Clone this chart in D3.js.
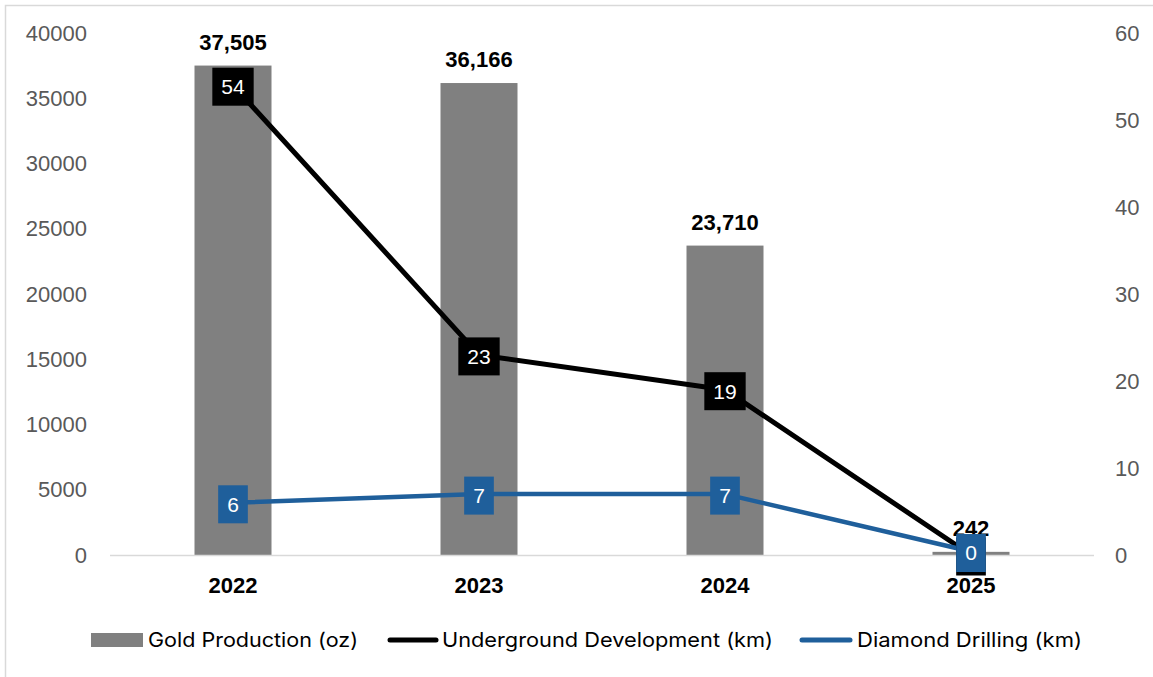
<!DOCTYPE html>
<html><head><meta charset="utf-8">
<script src="https://cdn.jsdelivr.net/npm/d3@7"></script>
<style>
html,body{margin:0;padding:0;background:#fff;}
svg{display:block;}
</style></head>
<body>
<svg id="chart" width="1153" height="677"></svg>
<script>
const categories = ["2022", "2023", "2024", "2025"];
const goldProduction = [37505, 36166, 23710, 242];
const undergroundDev = [54, 23, 19, 0];
const diamondDrilling = [6, 7, 7, 0.4];
const leftTicks = [0, 5000, 10000, 15000, 20000, 25000, 30000, 35000, 40000];
const rightTicks = [0, 10, 20, 30, 40, 50, 60];
const seriesNames = ["Gold Production (oz)", "Underground Development (km)", "Diamond Drilling (km)"];

const svg = d3.select("#chart");
const W = 1153, H = 677;
const plot = {left: 110, right: 1094, top: 33, bottom: 555};
const axisFont = "'Liberation Sans', Arial, sans-serif";
const legendFont = "Inter, 'Open Sans', sans-serif";
const grayBar = "#808080", black = "#000000", blue = "#1f5f9b";

// outer frame
svg.append("rect").attr("x", 5.5).attr("y", 5.5).attr("width", W + 10).attr("height", H + 10)
  .attr("fill", "none").attr("stroke", "#d9d9d9").attr("stroke-width", 1.5);

const x = d3.scaleBand().domain(categories).range([plot.left, plot.right])
  .paddingInner(0.687).paddingOuter(0.3435);
const yL = d3.scaleLinear().domain([0, 40000]).range([plot.bottom, plot.top]);
const yR = d3.scaleLinear().domain([0, 60]).range([plot.bottom, plot.top]);
const cx = c => x(c) + x.bandwidth() / 2;

// left axis
const axL = svg.append("g").attr("transform", `translate(${plot.left},0)`)
  .call(d3.axisLeft(yL).tickValues(leftTicks).tickSize(0).tickPadding(23).tickFormat(d3.format("d")));
axL.select(".domain").remove();
axL.selectAll("text").attr("font-family", axisFont).attr("font-size", 22).attr("fill", "#595959");

// right axis
const axR = svg.append("g").attr("transform", `translate(${plot.right},0)`)
  .call(d3.axisRight(yR).tickValues(rightTicks).tickSize(0).tickPadding(21).tickFormat(d3.format("d")));
axR.select(".domain").remove();
axR.selectAll("text").attr("font-family", axisFont).attr("font-size", 22).attr("fill", "#595959");

// bars
svg.append("g").selectAll("rect").data(categories).join("rect")
  .attr("x", c => x(c)).attr("width", x.bandwidth())
  .attr("y", (c, i) => yL(goldProduction[i]))
  .attr("height", (c, i) => yL(0) - yL(goldProduction[i]))
  .attr("fill", grayBar);

// baseline
svg.append("line").attr("x1", plot.left).attr("x2", plot.right)
  .attr("y1", yL(0) + 0.5).attr("y2", yL(0) + 0.5)
  .attr("stroke", "#d9d9d9").attr("stroke-width", 1.5);

// bottom axis labels
const axB = svg.append("g").attr("transform", `translate(0,${plot.bottom})`)
  .call(d3.axisBottom(x).tickSize(0).tickPadding(22));
axB.select(".domain").remove();
axB.selectAll("text").attr("font-family", axisFont).attr("font-size", 22)
  .attr("font-weight", "bold").attr("fill", "#000");

// bar labels
svg.append("g").selectAll("text").data(categories).join("text")
  .attr("x", c => cx(c)).attr("y", (c, i) => yL(goldProduction[i]) - 16)
  .attr("text-anchor", "middle").attr("font-family", axisFont).attr("font-size", 22)
  .attr("font-weight", "bold").attr("fill", "#000")
  .text((c, i) => d3.format(",")(goldProduction[i]));

// lines
const lineGen = vals => d3.line().x((d, i) => cx(categories[i])).y(d => yR(d))(vals);
svg.append("path").attr("d", lineGen(undergroundDev)).attr("fill", "none")
  .attr("stroke", black).attr("stroke-width", 5).attr("stroke-linejoin", "round").attr("stroke-linecap", "round");
svg.append("path").attr("d", lineGen(diamondDrilling)).attr("fill", "none")
  .attr("stroke", blue).attr("stroke-width", 4.5).attr("stroke-linejoin", "round").attr("stroke-linecap", "round");

// point labels with boxes
function boxLabels(vals, fill, dy) {
  const g = svg.append("g");
  vals.forEach((v, i) => {
    const px = cx(categories[i]), py = yR(v) + dy;
    const t = g.append("text").attr("x", px).attr("y", py).attr("dy", "0.35em")
      .attr("text-anchor", "middle").attr("font-family", axisFont).attr("font-size", 21)
      .attr("fill", "#fff").text(d3.format(".0f")(v));
    const w = t.node().getComputedTextLength() + 18;
    g.insert("rect", () => t.node()).attr("x", px - w / 2).attr("y", py - 19)
      .attr("width", w).attr("height", 38).attr("fill", fill);
  });
}
boxLabels(undergroundDev, black, 1.5);
boxLabels(diamondDrilling, blue, 1.5);

// legend
const lg = svg.append("g");
const ly = 640;
lg.append("rect").attr("x", 91).attr("y", 633).attr("width", 52).attr("height", 14).attr("fill", grayBar);
lg.append("line").attr("x1", 390).attr("x2", 436).attr("y1", ly).attr("y2", ly)
  .attr("stroke", black).attr("stroke-width", 5).attr("stroke-linecap", "round");
lg.append("line").attr("x1", 802).attr("x2", 850).attr("y1", ly).attr("y2", ly)
  .attr("stroke", blue).attr("stroke-width", 5).attr("stroke-linecap", "round");
const legendX = [148, 442, 857];
const legendW = [210, 331, 225];
seriesNames.forEach((n, i) => {
  lg.append("text").attr("x", legendX[i]).attr("y", ly).attr("dy", "0.35em")
    .attr("font-family", legendFont).attr("font-size", 20).attr("fill", "#000")
    .attr("textLength", legendW[i]).attr("lengthAdjust", "spacingAndGlyphs").text(n);
});
</script>
</body></html>
